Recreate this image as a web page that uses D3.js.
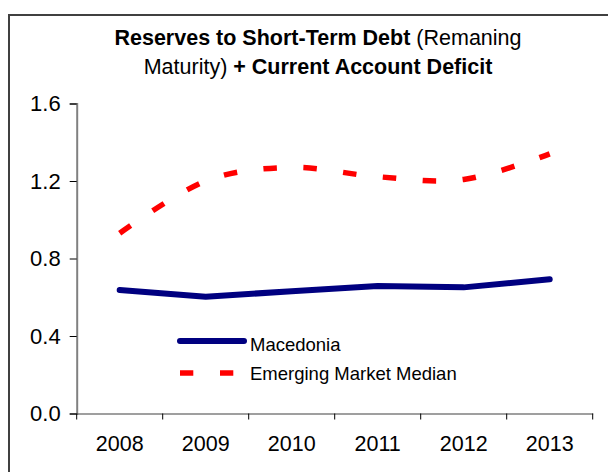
<!DOCTYPE html>
<html>
<head>
<meta charset="utf-8">
<script src="https://cdn.jsdelivr.net/npm/d3@7"></script>
<style>
  html, body { margin: 0; padding: 0; background: #fff; }
  svg { display: block; font-family: "Liberation Sans", Arial, sans-serif; }
</style>
</head>
<body>
<svg id="chart" width="608" height="472"></svg>
<script>
// Reserves / (short-term debt + current account deficit), by year
const years = ["2008", "2009", "2010", "2011", "2012", "2013"];
const macedonia = [0.637, 0.603, 0.631, 0.658, 0.651, 0.693];
const emergingMedian = [0.93, 1.20, 1.27, 1.222, 1.208, 1.34];
const yTicks = [0, 0.4, 0.8, 1.2, 1.6];
const seriesNames = ["Macedonia", "Emerging Market Median"];

const svg = d3.select("#chart");

// outer frame (runs off the right and bottom edges)
svg.append("rect")
  .attr("x", 9).attr("y", 15)
  .attr("width", 640).attr("height", 500)
  .attr("fill", "none")
  .attr("stroke", "#404040")
  .attr("stroke-width", 2);

// title
const title = svg.append("text")
  .attr("text-anchor", "middle")
  .attr("font-size", 21.5)
  .attr("fill", "#000");
const t1 = title.append("tspan").attr("x", 318).attr("y", 45);
t1.append("tspan").attr("font-weight", "bold").text("Reserves to Short-Term Debt");
t1.append("tspan").text(" (Remaning");
const t2 = title.append("tspan").attr("x", 318).attr("y", 74);
t2.append("tspan").text("Maturity) ");
t2.append("tspan").attr("font-weight", "bold").text("+ Current Account Deficit");

// scales
const x = d3.scaleBand().domain(years).range([76.7, 592.7]);
const y = d3.scaleLinear().domain([0, 1.6]).range([413.5, 103.5]);

// y axis
const yAxis = svg.append("g")
  .attr("transform", `translate(${x.range()[0]},0)`)
  .call(d3.axisLeft(y).tickValues(yTicks).tickFormat(d3.format(".1f"))
    .tickSize(7).tickPadding(9));
yAxis.select(".domain").attr("stroke", "#808080").attr("stroke-width", 2);
yAxis.selectAll(".tick line").attr("stroke", "#000");
yAxis.selectAll(".tick text")
  .attr("font-size", 22).attr("fill", "#000")
  .attr("font-family", "Liberation Sans, Arial, sans-serif");

// x axis: labels centred on categories, ticks on category boundaries
const xAxis = svg.append("g")
  .attr("transform", `translate(0,${y(0)})`)
  .call(d3.axisBottom(x).tickSize(0).tickPadding(22));
xAxis.select(".domain").attr("stroke", "#404040").attr("stroke-width", 1.2);
xAxis.selectAll(".tick text")
  .attr("font-size", 21.5).attr("fill", "#000")
  .attr("font-family", "Liberation Sans, Arial, sans-serif");
const bounds = years.map(d => x(d)).concat([x.range()[1]]);
xAxis.selectAll(".bound")
  .data(bounds)
  .join("line")
  .attr("class", "bound")
  .attr("x1", d => d).attr("x2", d => d)
  .attr("y1", 0).attr("y2", 6)
  .attr("stroke", "#000").attr("stroke-width", 1);

const cx = d => x(d) + x.bandwidth() / 2;

// Macedonia
svg.append("path")
  .datum(macedonia)
  .attr("d", d3.line().x((v, i) => cx(years[i])).y(v => y(v)))
  .attr("fill", "none")
  .attr("stroke", "#000080")
  .attr("stroke-width", 6)
  .attr("stroke-linecap", "round")
  .attr("stroke-linejoin", "round");

// Emerging market median (smoothed, dashed)
svg.append("path")
  .datum(emergingMedian)
  .attr("d", d3.line().curve(d3.curveCatmullRom.alpha(0))
    .x((v, i) => cx(years[i])).y(v => y(v)))
  .attr("fill", "none")
  .attr("stroke", "#ff0000")
  .attr("stroke-width", 5.5)
  .attr("stroke-dasharray", "13.5,26.5");

// legend
const legend = svg.append("g");
legend.append("line")
  .attr("x1", 180).attr("x2", 244).attr("y1", 341).attr("y2", 341)
  .attr("stroke", "#000080").attr("stroke-width", 6)
  .attr("stroke-linecap", "round");
legend.append("line")
  .attr("x1", 180).attr("x2", 247).attr("y1", 373).attr("y2", 373)
  .attr("stroke", "#ff0000").attr("stroke-width", 5.5)
  .attr("stroke-dasharray", "13.3,26.7");
legend.selectAll("text")
  .data(seriesNames)
  .join("text")
  .attr("x", 250)
  .attr("y", (d, i) => [351, 380][i])
  .attr("font-size", 18.5)
  .attr("fill", "#000")
  .text(d => d);
</script>
</body>
</html>
